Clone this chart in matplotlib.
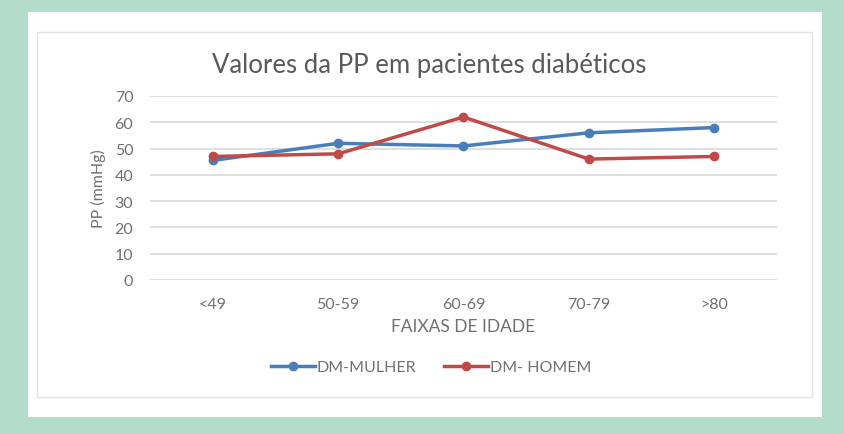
import matplotlib
matplotlib.use("Agg")
import matplotlib.pyplot as plt
from matplotlib.patches import Rectangle

faixas = ["<49", "50-59", "60-69", "70-79", ">80"]
mulher = [45.5, 52, 51, 56, 58]
homem = [47, 48, 62, 46, 47]

plt.rcParams['font.family'] = ['Lato', 'DejaVu Sans']

fig = plt.figure(figsize=(8.45, 4.35), dpi=100)
fig.patch.set_facecolor("#b3dccd")

# pannello bianco e cornice del grafico
fig.patches.append(Rectangle((28/845, 1-418/435), 794/845, 405/435,
                             transform=fig.transFigure, facecolor="white",
                             edgecolor="none", zorder=-2))
fig.patches.append(Rectangle((37/845, 1-398/435), 775/845, 365/435,
                             transform=fig.transFigure, facecolor="white",
                             edgecolor="#e3e3e3", linewidth=1, zorder=-1))

ax = fig.add_axes([150/845, 154/435, 627/845, 184/435])
ax.set_facecolor("none")

x = range(len(faixas))
ax.plot(x, mulher, color="#4a7ebb", linewidth=2.5, marker="o", markersize=6,
        label="DM-MULHER", zorder=3)
ax.plot(x, homem, color="#be4b48", linewidth=2.5, marker="o", markersize=6,
        label="DM- HOMEM", zorder=3)

ax.set_xlim(-0.5, len(faixas) - 0.5)
ax.set_ylim(0, 70)
ax.set_yticks(range(0, 71, 10))
ax.set_xticks(list(x))
ax.set_xticklabels(faixas)
ax.grid(axis="y", color="#d9d9d9", linewidth=1.2)
ax.set_axisbelow(True)
for s in ax.spines.values():
    s.set_visible(False)
ax.tick_params(length=0, colors="#707070", labelsize=11.5)
ax.tick_params(axis="y", pad=12)
ax.tick_params(axis="x", pad=12)

ax.set_ylabel("PP (mmHg)", color="#707070", fontsize=11.5, labelpad=6)
ax.set_xlabel("FAIXAS DE IDADE", color="#707070", fontsize=12.5, labelpad=5)

fig.text(0.508, 1 - 65/435, "Valores da PP em pacientes diabéticos",
         ha="center", va="center", fontsize=18.5, color="#5a5a5a")

fig.legend(loc="center", bbox_to_anchor=(0.51, 1 - 368/435), ncol=2,
           frameon=False, fontsize=11.5, labelcolor="#707070",
           handlelength=2.8, columnspacing=1.7, handletextpad=0.1)

fig.savefig("out.png", dpi=100, facecolor=fig.get_facecolor())
